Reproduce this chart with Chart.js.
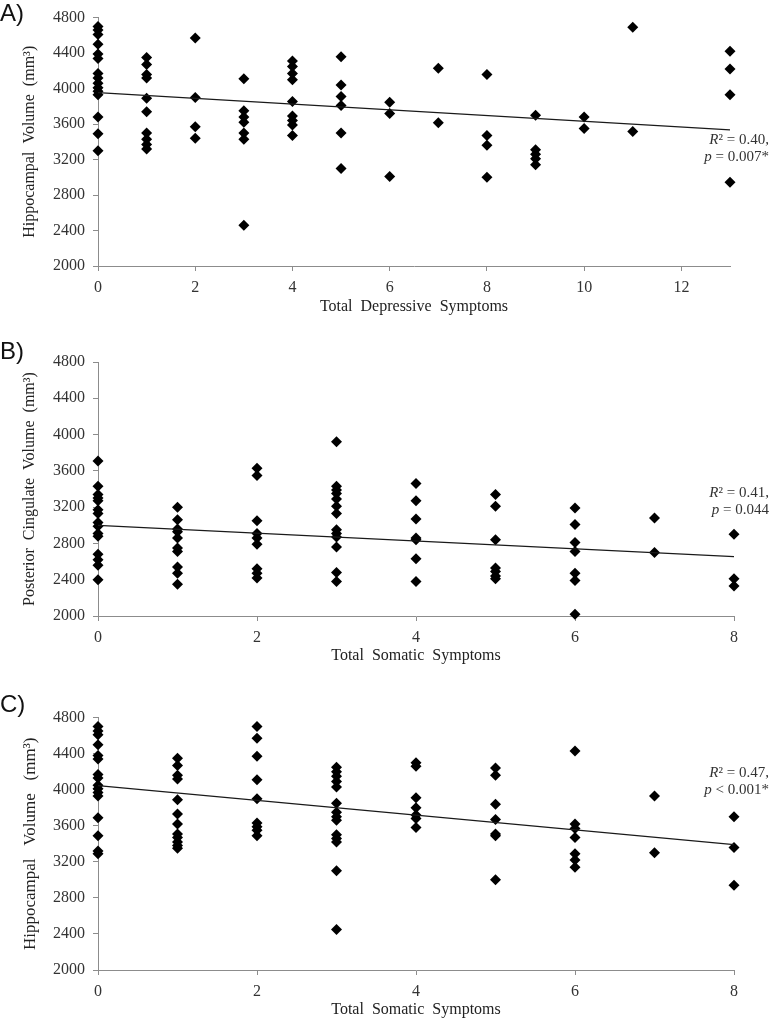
<!DOCTYPE html>
<html>
<head>
<meta charset="utf-8">
<script src="https://cdn.jsdelivr.net/npm/chart.js@4.4.1/dist/chart.umd.min.js"></script>
<style>
  html, body { margin: 0; padding: 0; background: #ffffff; }
  body { width: 772px; height: 1020px; position: relative; overflow: hidden; }
  .panel { position: absolute; left: 0; }
  .lbl { position: absolute; left: 0; font-family: "Liberation Sans", Arial, sans-serif; font-size: 24px; line-height: 24px; color: #111; }
  .ann { position: absolute; right: 3px; font-family: "Liberation Serif", "Times New Roman", serif; font-size: 15px; line-height: 17px; color: #333; text-align: right; white-space: nowrap; }
</style>
</head>
<body>
<canvas id="cA" class="panel" style="top:0px" width="772" height="320"></canvas>
<canvas id="cB" class="panel" style="top:340px" width="772" height="330"></canvas>
<canvas id="cC" class="panel" style="top:700px" width="772" height="320"></canvas>

<div class="lbl" style="top:1px">A)</div>
<div class="lbl" style="top:339px">B)</div>
<div class="lbl" style="top:692px">C)</div>

<div class="ann" style="top:131px"><i>R</i>² = 0.40,<br><i>p</i> = 0.007*</div>
<div class="ann" style="top:484px"><i>R</i>² = 0.41,<br><i>p</i> = 0.044</div>
<div class="ann" style="top:764px"><i>R</i>² = 0.47,<br><i>p</i> &lt; 0.001*</div>

<script>
// ---------------- Panel A: depressive symptoms vs hippocampal volume ----------------
const aSymptoms = [
  0,0,0,0,0,0,0,0,0,0,0,0,0,0,0,
  1,1,1,1,1,1,1,1,1,1,
  2,2,2,2,
  3,3,3,3,3,3,3,
  4,4,4,4,4,4,4,4,4,
  5,5,5,5,5,5,
  6,6,6,
  7,7,
  8,8,8,8,
  9,9,9,9,9,
  10,10,
  11,11,
  13,13,13,13
];
const aVolume = [
  4700,4660,4610,4500,4390,4340,4170,4120,4060,4010,3970,3930,3680,3490,3300,
  4350,4270,4160,4120,3890,3740,3500,3430,3370,3320,
  4570,3900,3570,3440,
  4110,3750,3680,3620,3500,3430,2460,
  4310,4250,4170,4100,3855,3690,3640,3590,3470,
  4360,4040,3910,3810,3500,3100,
  3845,3720,3010,
  4230,3615,
  4160,3470,3360,3000,
  3700,3310,3260,3210,3140,
  3680,3550,
  4690,3515,
  4420,4220,3930,2945
];
const aTrendX = [0, 13];
const aTrendY = [3955, 3535];

// ---------------- Panel B: somatic symptoms vs posterior cingulate volume ----------------
const bSymptoms = [
  0,0,0,0,0,0,0,0,0,0,0,0,0,0,0,
  1,1,1,1,1,1,1,1,1,1,
  2,2,2,2,2,2,2,2,2,
  3,3,3,3,3,3,3,3,3,3,3,3,3,
  4,4,4,4,4,4,4,
  5,5,5,5,5,5,5,
  6,6,6,6,6,6,6,
  7,7,
  8,8,8
];
const bVolume = [
  3710,3430,3340,3300,3270,3170,3130,3030,2990,2910,2880,2680,2620,2560,2400,
  3200,3060,2960,2930,2860,2750,2710,2540,2470,2350,
  3630,3550,3050,2910,2860,2790,2520,2470,2420,
  3920,3430,3390,3350,3290,3210,3130,2950,2910,2870,2760,2480,2380,
  3460,3270,3070,2860,2840,2630,2380,
  3340,3210,2840,2530,2490,2440,2410,
  3190,3010,2810,2710,2470,2390,2020,
  3080,2700,
  2900,2410,2330
];
const bTrendX = [0, 8];
const bTrendY = [2998, 2655];

// ---------------- Panel C: somatic symptoms vs hippocampal volume ----------------
const cSymptoms = [
  0,0,0,0,0,0,0,0,0,0,0,0,0,0,0,0,
  1,1,1,1,1,1,1,1,1,1,1,1,
  2,2,2,2,2,2,2,2,2,
  3,3,3,3,3,3,3,3,3,3,3,3,3,3,
  4,4,4,4,4,4,4,
  5,5,5,5,5,5,5,
  6,6,6,6,6,6,6,
  7,7,
  8,8,8
];
const cVolume = [
  4700,4650,4610,4500,4380,4340,4170,4130,4050,4010,3970,3930,3690,3490,3320,3290,
  4350,4270,4160,4120,3890,3730,3620,3510,3470,3420,3380,3350,
  4700,4570,4370,4110,3900,3630,3590,3550,3490,
  4250,4200,4150,4090,4030,3850,3750,3700,3660,3500,3460,3420,3100,2450,
  4300,4260,3910,3800,3720,3680,3580,
  4240,4160,3840,3670,3510,3490,3000,
  4430,3620,3570,3470,3290,3220,3140,
  3930,3300,
  3700,3360,2940
];
const cTrendX = [0, 8];
const cTrendY = [4045, 3390];

// ---------------- Axis settings ----------------
const yTickValues = [2000, 2400, 2800, 3200, 3600, 4000, 4400, 4800];
const xTickStep = 2;

const SERIF = '"Liberation Serif", "Times New Roman", serif';
const AXIS_GRAY = '#8c8c8c';
const TEXT_GRAY = '#333333';

function pts(xs, ys) { return xs.map((x, i) => ({ x: x, y: ys[i] })); }

function makePanel(id, xs, ys, tx, ty, xMax, xTitle, yTitle, cfg) {
  new Chart(document.getElementById(id), {
    type: 'scatter',
    data: {
      datasets: [
        {
          data: pts(xs, ys),
          pointStyle: 'rectRot',
          pointRadius: 5.5,
          pointBackgroundColor: '#000000',
          pointBorderColor: '#000000',
          pointBorderWidth: 0,
          showLine: false,
          clip: false,
          order: 2
        },
        {
          type: 'line',
          data: pts(tx, ty),
          borderColor: '#1a1a1a',
          borderWidth: 1.2,
          pointRadius: 0,
          fill: false,
          clip: false,
          order: 1
        }
      ]
    },
    options: {
      responsive: false,
      animation: false,
      events: [],
      layout: { padding: { top: cfg.padTop, right: cfg.padRight, left: 0, bottom: 0 } },
      plugins: { legend: { display: false }, tooltip: { enabled: false } },
      scales: {
        x: {
          type: 'linear',
          min: 0,
          max: xMax,
          afterFit: s => { s.height = cfg.xHeight; },
          border: { color: AXIS_GRAY, width: 1 },
          grid: { drawOnChartArea: false, drawTicks: true, tickLength: 5, color: AXIS_GRAY },
          ticks: {
            stepSize: xTickStep, includeBounds: false, color: TEXT_GRAY, padding: 7,
            maxRotation: 0, font: { family: SERIF, size: 16 },
            callback: v => String(v)
          },
          title: {
            display: true, text: xTitle, color: '#222222',
            font: { family: SERIF, size: 16 }, padding: { top: 0, bottom: cfg.xTitlePad }
          }
        },
        y: {
          type: 'linear',
          min: yTickValues[0],
          max: yTickValues[yTickValues.length - 1],
          afterFit: s => { s.width = 98; },
          afterBuildTicks: s => { s.ticks = yTickValues.map(v => ({ value: v })); },
          border: { color: AXIS_GRAY, width: 1 },
          grid: { drawOnChartArea: false, drawTicks: true, tickLength: 5, color: AXIS_GRAY },
          ticks: { color: TEXT_GRAY, padding: 8, font: { family: SERIF, size: 16 }, callback: v => String(v) },
          title: {
            display: true, text: yTitle, color: '#222222',
            font: { family: SERIF, size: cfg.yTitleSize }, padding: { top: 20, bottom: 0 }
          }
        }
      }
    }
  });
}

makePanel('cA', aSymptoms, aVolume, aTrendX, aTrendY, 13,
  'Total  Depressive  Symptoms', 'Hippocampal  Volume  (mm³)',
  { padTop: 12, padRight: 42, xHeight: 54, xTitlePad: 4, yTitleSize: 16 });
makePanel('cB', bSymptoms, bVolume, bTrendX, bTrendY, 8,
  'Total  Somatic  Symptoms', 'Posterior  Cingulate  Volume  (mm³)',
  { padTop: 22, padRight: 38, xHeight: 54, xTitlePad: 5, yTitleSize: 16 });
makePanel('cC', cSymptoms, cVolume, cTrendX, cTrendY, 8,
  'Total  Somatic  Symptoms', 'Hippocampal   Volume   (mm³)',
  { padTop: 17, padRight: 38, xHeight: 50, xTitlePad: 1, yTitleSize: 17 });
</script>
</body>
</html>
